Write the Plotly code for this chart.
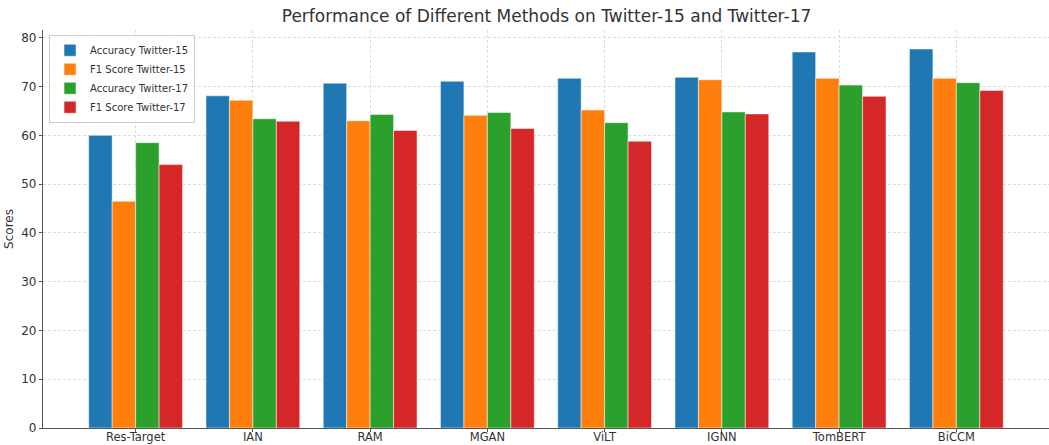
import plotly.graph_objects as go

methods = ["Res-Target", "IAN", "RAM", "MGAN", "ViLT", "IGNN", "TomBERT", "BiCCM"]
acc_t15 = [60.0, 68.1, 70.7, 71.1, 71.7, 71.9, 77.1, 77.7]
f1_t15 = [46.5, 67.2, 63.0, 64.1, 65.2, 71.4, 71.7, 71.7]
acc_t17 = [58.5, 63.4, 64.3, 64.7, 62.6, 64.8, 70.3, 70.8]
f1_t17 = [54.0, 62.9, 61.0, 61.4, 58.8, 64.4, 68.0, 69.2]

series = [
    ("Accuracy Twitter-15", acc_t15, "#1f77b4"),
    ("F1 Score Twitter-15", f1_t15, "#ff7f0e"),
    ("Accuracy Twitter-17", acc_t17, "#2ca02c"),
    ("F1 Score Twitter-17", f1_t17, "#d62728"),
]

fig = go.Figure()
for name, vals, color in series:
    fig.add_trace(go.Bar(
        x=methods, y=vals, name=name,
        marker=dict(color=color, line=dict(color="rgba(255,255,255,0.5)", width=1)),
    ))

font_family = "DejaVu Sans"
fig.update_layout(
    width=1049, height=445,
    margin=dict(l=43, r=0, t=30, b=17, autoexpand=False),
    paper_bgcolor="white", plot_bgcolor="white",
    barmode="group", bargap=0.2, bargroupgap=0,
    font=dict(family=font_family, color="#333333", size=12),
    title=dict(text="Performance of Different Methods on Twitter-15 and Twitter-17",
               x=0.521, xanchor="center", y=0.978, yanchor="top",
               font=dict(size=17, color="#333333")),
    legend=dict(x=0.006, y=0.988, xanchor="left", yanchor="top",
                bgcolor="rgba(255,255,255,0.85)", bordercolor="#cccccc", borderwidth=1,
                font=dict(size=10, color="#333333"), tracegroupgap=0,
                itemwidth=30),
    showlegend=True,
)
fig.update_xaxes(
    range=[-0.79, 7.79], showline=True, linecolor="#555555", linewidth=1.3,
    ticks="outside", ticklen=3, tickcolor="#555555",
    showgrid=True, gridcolor="#dddddd", griddash="3px,2px", gridwidth=1,
    tickfont=dict(size=11.5, color="#333333"), automargin=False,
    ticklabelstandoff=-5,
)
fig.update_yaxes(
    range=[0, 81.6], dtick=10, showline=True, linecolor="#555555", linewidth=1.3,
    ticks="outside", ticklen=3, tickcolor="#555555",
    showgrid=True, gridcolor="#dddddd", griddash="3px,2px", gridwidth=1,
    zeroline=False, automargin=False,
    title=dict(text="Scores", font=dict(size=12, color="#333333"), standoff=4),
    tickfont=dict(size=12, color="#333333"),
)

fig.write_html("out.html", config={"displayModeBar": False},
               post_script="document.body.style.margin='0';document.body.style.overflow='hidden';")
